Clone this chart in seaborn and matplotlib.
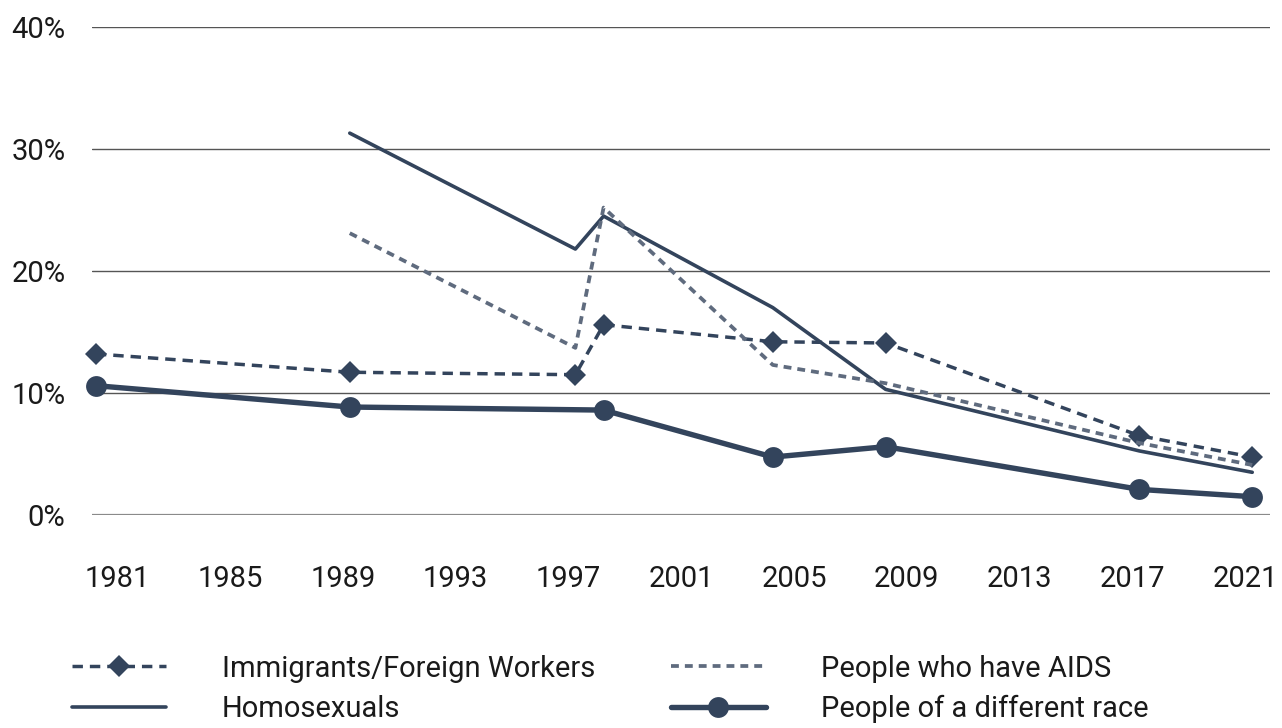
import numpy as np
import matplotlib
matplotlib.use("Agg")
import matplotlib.pyplot as plt
import pandas as pd
import seaborn as sns

# Survey years (two points close together around 1998/1999)
imm_years = [1981, 1990, 1998, 1999, 2005, 2009, 2018, 2022]
imm_vals = [13.2, 11.7, 11.5, 15.6, 14.2, 14.1, 6.5, 4.75]

homo_years = [1990, 1998, 1999, 2005, 2009, 2018, 2022]
homo_vals = [31.3, 21.8, 24.5, 17.0, 10.3, 5.25, 3.5]

aids_years = [1990, 1998, 1999, 2005, 2009, 2018, 2022]
aids_vals = [23.1, 13.7, 25.2, 12.3, 10.8, 5.9, 4.1]

race_years = [1981, 1990, 1999, 2005, 2009, 2018, 2022]
race_vals = [10.6, 8.85, 8.6, 4.75, 5.6, 2.1, 1.5]

tick_years = [1981, 1985, 1989, 1993, 1997, 2001, 2005, 2009, 2013, 2017, 2021]
y_ticks = [0, 10, 20, 30, 40]

NAVY = "#33445c"
GREY = "#5f6b7e"

sns.set_style("white")
plt.rcParams["font.family"] = ["Roboto", "DejaVu Sans"]

fig = plt.figure(figsize=(12.82, 7.28), dpi=100)
ax = fig.add_axes([92 / 1282, 1 - 515 / 728, (1270 - 92) / 1282, (515 - 27) / 728])

series = [
    ("Immigrants/Foreign Workers", imm_years, imm_vals,
     dict(color=NAVY, lw=2.5, linestyle=(0, (3.0, 2.0)), marker="D", markersize=11)),
    ("Homosexuals", homo_years, homo_vals,
     dict(color=NAVY, lw=2.6, linestyle="-")),
    ("People who have AIDS", aids_years, aids_vals,
     dict(color=GREY, lw=2.7, linestyle=(0, (2.1, 1.6)))),
    ("People of a different race", race_years, race_vals,
     dict(color=NAVY, lw=3.9, linestyle="-", marker="o", markersize=15)),
]

for label, xs, ys, kw in series:
    df = pd.DataFrame({"year": xs, "value": ys})
    sns.lineplot(data=df, x="year", y="value", ax=ax, label=label,
                 markeredgewidth=0, clip_on=False, zorder=3, **kw)

if ax.get_legend() is not None:
    ax.get_legend().remove()

ax.set_xlim(1980.86, 2022.63)
ax.set_ylim(0, 40)
ax.set_yticks(y_ticks)
ax.set_yticklabels([f"{v}%" for v in y_ticks])
ax.set_xticks([y + 0.75 for y in tick_years])
ax.set_xticklabels([str(y) for y in tick_years])
ax.tick_params(axis="y", length=0, pad=19, labelsize=21, labelcolor="#1a1a1a")
ax.tick_params(axis="x", length=0, pad=36, labelsize=21, labelcolor="#1a1a1a")
ax.set_xlabel("")
ax.set_ylabel("")
for s in ax.spines.values():
    s.set_visible(False)
for v in y_ticks:
    if v == 0:
        ax.axhline(v, color="#8a8a8a", lw=1.6, zorder=1)
    else:
        ax.axhline(v, color="#555555", lw=1.0, zorder=1)

handles, labels = ax.get_legend_handles_labels()
fig.legend(handles, labels, ncol=2, loc="upper left",
           bbox_to_anchor=(60 / 1282, 1 - 643 / 728), frameon=False,
           fontsize=21, handlelength=3.25, handletextpad=1.9,
           columnspacing=2.6, labelspacing=0.42, borderaxespad=0,
           labelcolor="#1a1a1a")

fig.savefig("out.png", dpi=100)
